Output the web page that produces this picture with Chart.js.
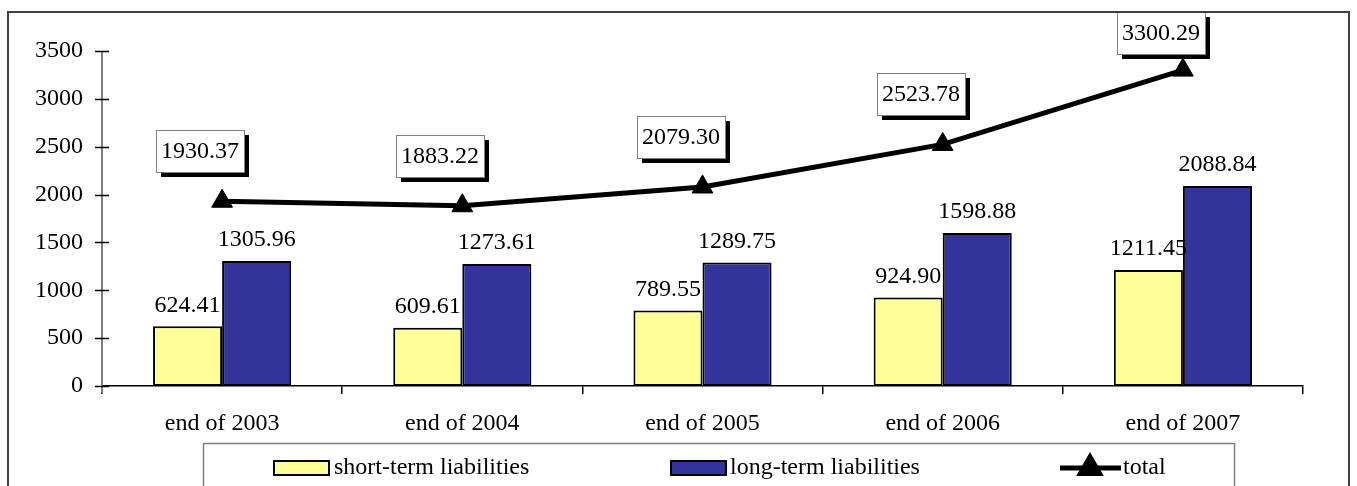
<!DOCTYPE html>
<html>
<head>
<meta charset="utf-8">
<script src="https://cdn.jsdelivr.net/npm/chart.js@4/dist/chart.umd.min.js"></script>
<style>
  html, body { margin: 0; padding: 0; background: #fff; }
  canvas { display: block; }
</style>
</head>
<body>
<canvas id="chart" width="1357" height="486"></canvas>
<script>
const categories = ["end of 2003", "end of 2004", "end of 2005", "end of 2006", "end of 2007"];
const shortTerm = [624.41, 609.61, 789.55, 924.90, 1211.45];
const longTerm = [1305.96, 1273.61, 1289.75, 1598.88, 2088.84];
const totals = [1930.37, 1883.22, 2079.30, 2523.78, 3300.29];
const seriesNames = ["short-term liabilities", "long-term liabilities", "total"];

const FONT_SIZE = 24;
const FONT = FONT_SIZE + 'px "Liberation Serif", "Times New Roman", serif';
const YELLOW = "#FFFF99";
const BLUE = "#333399";

// Rahmen, Achsen-Extras und Legende
const frame = {
    id: "frame",
    beforeDraw(chart) {
        const { ctx } = chart;
        ctx.save();
        ctx.fillStyle = "#fff";
        ctx.fillRect(0, 0, chart.width, chart.height);
        ctx.restore();
    },
    afterDraw(chart) {
        const { ctx, chartArea } = chart;
        const yScale = chart.scales.y;
        ctx.save();

        // outer border
        ctx.strokeStyle = "#404040";
        ctx.lineWidth = 2;
        ctx.strokeRect(8, 12, 1341, 520);

        // y axis line (gray), runs a little below zero
        ctx.strokeStyle = "#808080";
        ctx.lineWidth = 2;
        ctx.beginPath();
        ctx.moveTo(chartArea.left, chartArea.top);
        ctx.lineTo(chartArea.left, chartArea.bottom + 7);
        ctx.stroke();

        // y ticks crossing the axis
        ctx.strokeStyle = "#000";
        ctx.lineWidth = 1.5;
        yScale.ticks.forEach(t => {
            const y = Math.round(yScale.getPixelForValue(t.value)) + 0.5;
            ctx.beginPath();
            ctx.moveTo(chartArea.left - 7, y);
            ctx.lineTo(chartArea.left + 7, y);
            ctx.stroke();
        });

        // legend box
        ctx.strokeStyle = "#808080";
        ctx.lineWidth = 1.5;
        ctx.strokeRect(203.5, 443.5, 1031, 80);

        const ly = 468;
        ctx.font = FONT;
        ctx.textBaseline = "middle";
        ctx.textAlign = "left";

        ctx.fillStyle = YELLOW;
        ctx.fillRect(274, ly - 7, 55, 14);
        ctx.strokeStyle = "#000";
        ctx.lineWidth = 2;
        ctx.strokeRect(274, ly - 7, 55, 14);
        ctx.fillStyle = "#000";
        ctx.fillText(seriesNames[0], 334, ly);

        ctx.fillStyle = BLUE;
        ctx.fillRect(671, ly - 7, 55, 14);
        ctx.strokeRect(671, ly - 7, 55, 14);
        ctx.fillStyle = "#000";
        ctx.fillText(seriesNames[1], 730, ly);

        ctx.lineWidth = 5;
        ctx.beginPath();
        ctx.moveTo(1060, ly);
        ctx.lineTo(1121, ly);
        ctx.stroke();
        Chart.helpers.drawPoint(ctx, { pointStyle: "triangle", radius: 11, rotation: 0, borderWidth: 1 }, 1090, ly);
        ctx.fillText(seriesNames[2], 1123, ly);

        ctx.restore();
    }
};

// Wertebeschriftungen
const valueLabels = {
    id: "valueLabels",
    afterDatasetsDraw(chart) {
        const { ctx } = chart;
        ctx.save();
        ctx.font = FONT;
        ctx.textAlign = "center";
        ctx.textBaseline = "middle";
        ctx.fillStyle = "#000";

        [0, 1].forEach(i => {
            const meta = chart.getDatasetMeta(i);
            const values = chart.data.datasets[i].data;
            meta.data.forEach((bar, j) => {
                ctx.fillText(values[j].toFixed(2), bar.x, bar.y - 21);
            });
        });

        const lineMeta = chart.getDatasetMeta(2);
        lineMeta.data.forEach((pt, j) => {
            const txt = totals[j].toFixed(2);
            const w = Math.round(ctx.measureText(txt).width + 10);
            const h = 42;
            const cx = pt.x - 22;
            let top = Math.round(pt.y - 50 - h / 2);
            if (top < 12) top = 12;
            const left = Math.round(cx - w / 2);
            ctx.fillStyle = "#000";
            ctx.fillRect(left + 5, top + 5, w, h);
            ctx.fillStyle = "#fff";
            ctx.fillRect(left, top, w, h);
            ctx.strokeStyle = "#808080";
            ctx.lineWidth = 1;
            ctx.strokeRect(left + 0.5, top + 0.5, w, h);
            ctx.fillStyle = "#000";
            ctx.fillText(txt, left + w / 2, top + h / 2 + 1);
        });
        ctx.restore();
    }
};

new Chart(document.getElementById("chart"), {
    type: "bar",
    plugins: [frame, valueLabels],
    data: {
        labels: categories,
        datasets: [
            {
                label: seriesNames[0],
                data: shortTerm,
                backgroundColor: YELLOW,
                borderColor: "#000",
                borderWidth: 2,
                borderSkipped: false,
                order: 1
            },
            {
                label: seriesNames[1],
                data: longTerm,
                backgroundColor: BLUE,
                borderColor: "#000",
                borderWidth: 2,
                borderSkipped: false,
                order: 1
            },
            {
                type: "line",
                label: seriesNames[2],
                data: totals,
                borderColor: "#000",
                borderWidth: 5,
                pointStyle: "triangle",
                pointRadius: 12,
                pointBackgroundColor: "#000",
                pointBorderColor: "#000",
                pointBorderWidth: 1,
                tension: 0,
                clip: false,
                order: 0
            }
        ]
    },
    options: {
        responsive: false,
        animation: false,
        events: [],
        devicePixelRatio: 1,
        layout: { padding: { left: 0, right: 54, top: 51, bottom: 50 } },
        datasets: {
            bar: { categoryPercentage: 0.575, barPercentage: 1 }
        },
        scales: {
            x: {
                grid: {
                    offset: true,
                    drawOnChartArea: false,
                    drawTicks: true,
                    tickLength: 8,
                    color: "#000",
                    lineWidth: 1.5
                },
                border: { display: true, color: "#000", width: 1.5 },
                ticks: { color: "#000", font: { family: '"Liberation Serif"', size: FONT_SIZE }, padding: 15, maxRotation: 0 },
                afterFit(scale) { scale.height = 50; }
            },
            y: {
                min: 0,
                max: 3500,
                ticks: {
                    stepSize: 500,
                    color: "#000",
                    padding: 19,
                    font: { family: '"Liberation Serif"', size: FONT_SIZE },
                    callback: v => String(v)
                },
                grid: { display: false, drawTicks: false },
                border: { display: false },
                afterFit(scale) { scale.width = 102; }
            }
        },
        plugins: {
            legend: { display: false },
            tooltip: { enabled: false }
        }
    }
});
</script>
</body>
</html>
